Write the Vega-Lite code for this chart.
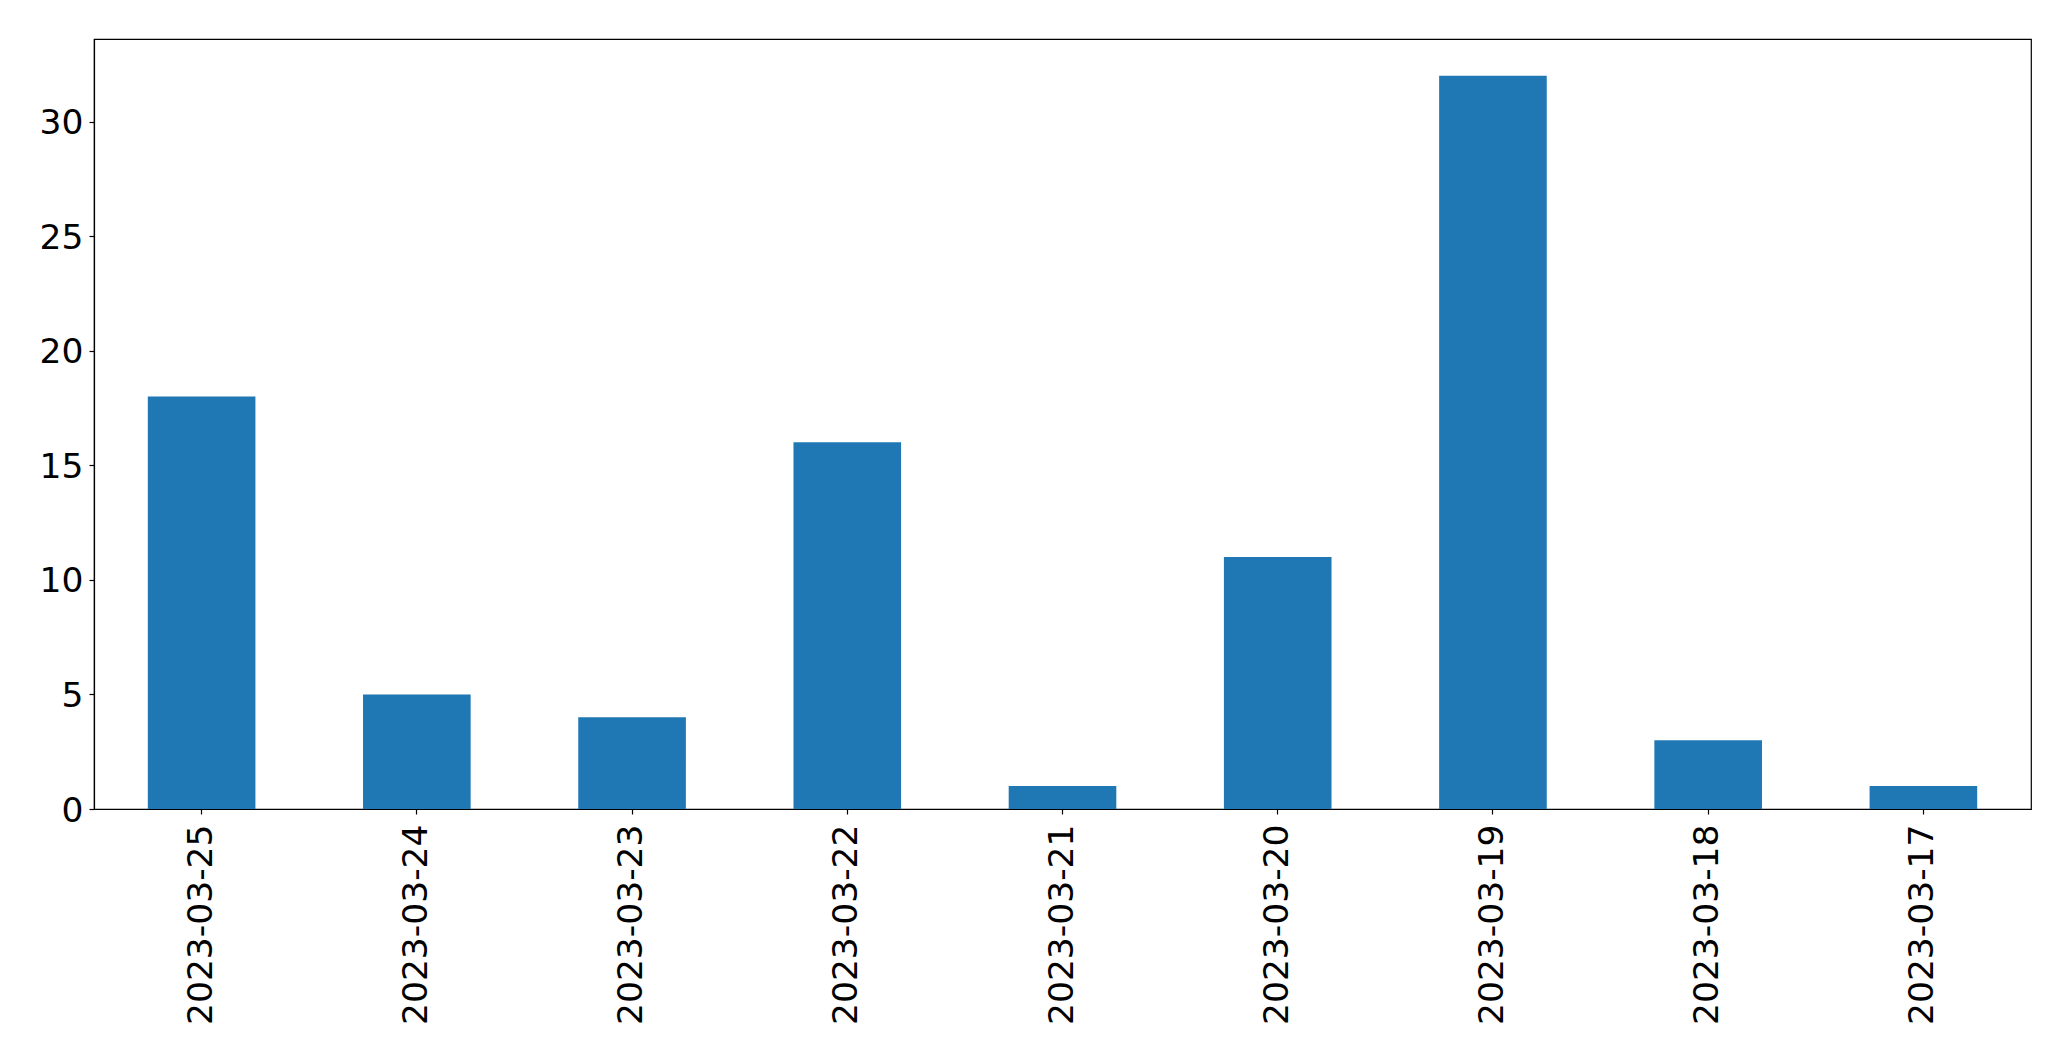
{
  "$schema": "https://vega.github.io/schema/vega-lite/v6.json",
  "width": 1937,
  "height": 770,
  "autosize": {"type": "none"},
  "padding": {"left": 94, "top": 39, "right": 40, "bottom": 252},
  "background": "white",
  "config": {
    "view": {"stroke": "black", "strokeWidth": 1.2},
    "axis": {
      "labelFont": "DejaVu Sans",
      "labelFontSize": 34.5,
      "labelColor": "black",
      "labelLimit": 0,
      "domainColor": "black",
      "domainWidth": 1.2,
      "tickColor": "black",
      "tickWidth": 1.2,
      "tickSize": 5,
      "grid": false,
      "title": null
    }
  },
  "data": {
    "values": [
      {"date": "2023-03-25", "count": 18},
      {"date": "2023-03-24", "count": 5},
      {"date": "2023-03-23", "count": 4},
      {"date": "2023-03-22", "count": 16},
      {"date": "2023-03-21", "count": 1},
      {"date": "2023-03-20", "count": 11},
      {"date": "2023-03-19", "count": 32},
      {"date": "2023-03-18", "count": 3},
      {"date": "2023-03-17", "count": 1}
    ]
  },
  "mark": {"type": "bar", "color": "#1f77b4"},
  "encoding": {
    "x": {
      "field": "date",
      "type": "nominal",
      "sort": null,
      "scale": {"paddingInner": 0.5, "paddingOuter": 0.25},
      "axis": {"labelAngle": -90, "labelPadding": 10, "labelBaseline": "middle", "labelAlign": "right"}
    },
    "y": {
      "field": "count",
      "type": "quantitative",
      "scale": {"domain": [0, 33.6], "nice": false, "zero": true},
      "axis": {"values": [0, 5, 10, 15, 20, 25, 30], "labelPadding": 6, "labelOffset": 2}
    }
  }
}
